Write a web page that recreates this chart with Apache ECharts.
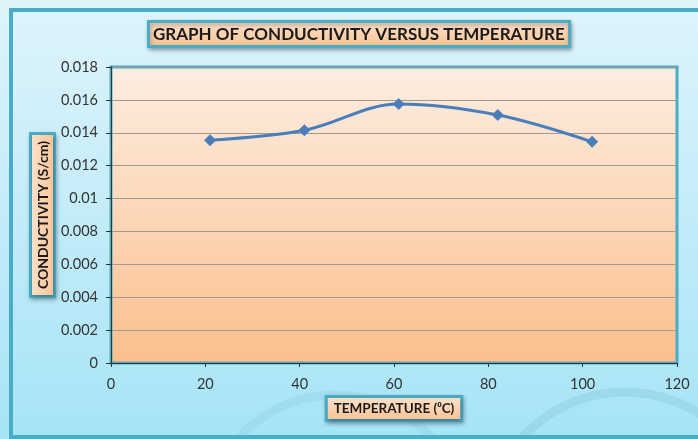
<!DOCTYPE html>
<html><head><meta charset="utf-8">
<script src="https://cdn.jsdelivr.net/npm/echarts@6/dist/echarts.min.js"></script>
<style>html,body{margin:0;padding:0;background:#fff;}#c{width:698px;height:439px;}</style>
</head><body><div id="c"></div>
<script>
const temperature = [21, 41, 61, 82, 102];
const conductivity = [0.01355, 0.01415, 0.01575, 0.01508, 0.01345];
const xTicks = [0, 20, 40, 60, 80, 100, 120];
const yTicks = [0, 0.002, 0.004, 0.006, 0.008, 0.01, 0.012, 0.014, 0.016, 0.018];

const FONT = 'Lato';
const chart = echarts.init(document.getElementById('c'));
const boxStyle = {
  backgroundColor: new echarts.graphic.LinearGradient(0,0,0,1,[{offset:0,color:'#fde4cf'},{offset:1,color:'#f9c08f'}]),
  borderColor: '#4bacc6', borderWidth: 3,
  shadowColor: 'rgba(0,0,0,0.3)', shadowBlur: 4, shadowOffsetX: 1, shadowOffsetY: 2
};
chart.setOption({
  animation: false,
  backgroundColor: new echarts.graphic.LinearGradient(0,0,0,1,[{offset:0,color:'#dff4fb'},{offset:1,color:'#a6e4f7'}]),
  graphic: [
    {type:'circle', shape:{cx:625, cy:530, r:138}, style:{fill:'none', stroke:'rgba(130,195,215,0.35)', lineWidth:9}, silent:true},
    {type:'circle', shape:{cx:335, cy:525, r:130}, style:{fill:'none', stroke:'rgba(130,195,215,0.25)', lineWidth:9}, silent:true},
    {type:'rect', shape:{x:11, y:10, width:700, height:427}, style:{fill:'none', stroke:'#4bacc6', lineWidth:4}, silent:true}
  ],
  title: {
    text: 'GRAPH OF CONDUCTIVITY VERSUS TEMPERATURE',
    left: 148, top: 21,
    padding: [5, 5, 4, 5],
    textStyle: {fontFamily: FONT, fontWeight: 'bold', fontSize: 17, color: '#1a1a1a'},
    ...boxStyle
  },
  grid: {
    left: 111, right: 21, top: 67, bottom: 76,
    show: true,
    backgroundColor: new echarts.graphic.LinearGradient(0,0,0,1,[{offset:0,color:'#fdeee2'},{offset:1,color:'#fbbf8c'}]),
    borderColor: '#4bacc6', borderWidth: 3
  },
  xAxis: {
    type: 'value', min: 0, max: 120, interval: 20,
    name: 'TEMPERATURE (⁰C)', nameLocation: 'middle', nameGap: 35, nameMoveOverlap: false,
    nameTextStyle: {fontFamily: FONT, fontWeight: 'bold', fontSize: 13.5, color: '#1a1a1a', padding:[4,6,3,6], ...boxStyle},
    axisLine: {show: true, onZero: false, lineStyle: {color: '#333', width: 1}},
    axisTick: {show: true, length: 4, inside: false, lineStyle: {color: '#333'}},
    axisLabel: {fontFamily: FONT, fontSize: 14.5, color: '#333', margin: 14,
      formatter: v => xTicks.includes(v) ? String(v) : ''},
    splitLine: {show: false}
  },
  yAxis: {
    type: 'value', min: 0, max: 0.018, interval: 0.002,
    name: 'CONDUCTIVITY (S/cm)', nameLocation: 'middle', nameGap: 58, nameRotate: 90, nameMoveOverlap: false,
    nameTextStyle: {fontFamily: FONT, fontWeight: 'bold', fontSize: 14, color: '#1a1a1a', padding:[4,6,3,6], ...boxStyle},
    axisLine: {show: true, lineStyle: {color: '#333', width: 1}},
    axisTick: {show: true, length: 5, lineStyle: {color: '#333'}},
    axisLabel: {fontFamily: FONT, fontSize: 14.5, color: '#333', margin: 13,
      formatter: v => { const t = yTicks.find(k => Math.abs(k - v) < 1e-9); return t === undefined ? '' : String(+t.toFixed(3)); }},
    splitLine: {show: true, lineStyle: {color: '#a09a94', width: 1.2}}
  },
  series: [{
    type: 'line',
    data: temperature.map((t, i) => [t, conductivity[i]]),
    smooth: 0.35,
    symbol: 'diamond', symbolSize: 12,
    lineStyle: {color: '#4a7ebb', width: 3},
    itemStyle: {color: '#4a7ebb'}
  }]
});
</script></body></html>
